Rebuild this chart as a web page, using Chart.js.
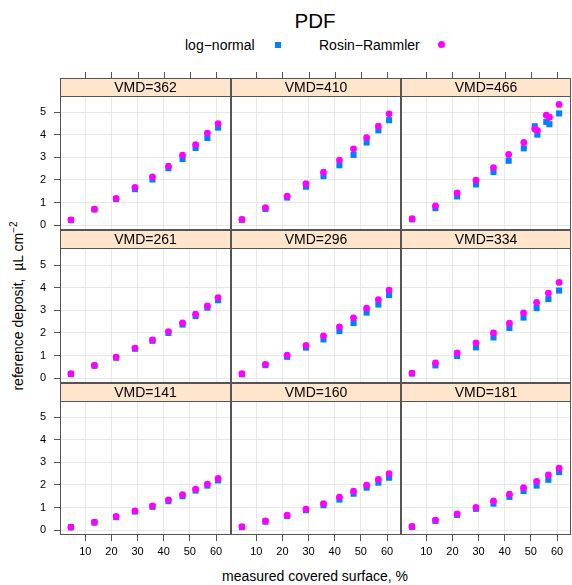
<!DOCTYPE html>
<html>
<head>
<meta charset="utf-8">
<script src="https://cdn.jsdelivr.net/npm/chart.js@4.4.0/dist/chart.umd.min.js"></script>
<style>
  body { margin: 0; background: #fff; font-family: "Liberation Sans", Arial, sans-serif; }
  #wrap { position: relative; width: 572px; height: 585px; overflow: hidden; }
  #wrap canvas { position: absolute; }
  .txt { position: absolute; white-space: nowrap; color: #000; line-height: 1; }
  .sq { position: absolute; width: 6px; height: 6px; background: #0080ff; }
  .dot { position: absolute; width: 7px; height: 7px; border-radius: 50%; background: #ff00ff; }
</style>
</head>
<body>
<div id="wrap">
  <div class="txt" style="left:0;width:630px;text-align:center;top:11px;font-size:20.5px;">PDF</div>
  <div class="txt" style="left:185px;top:38px;font-size:14px;">log−normal</div>
  <div class="sq" style="left:275px;top:42px;"></div>
  <div class="txt" style="left:319px;top:38px;font-size:14px;">Rosin−Rammler</div>
  <div class="dot" style="left:438px;top:41px;"></div>
  <div class="txt" style="left:0;width:630px;text-align:center;top:569px;font-size:14px;">measured covered surface, %</div>
  <div class="txt" style="left:17px;top:306px;font-size:14px;transform:translate(-50%,-50%) rotate(-90deg);">reference deposit,&nbsp; µL cm<sup style="font-size:10px;vertical-align:6px;">−2</sup></div>
</div>
<script>
// measured covered surface, % (shared by most panels)
const covered = [4.5, 13.5, 21.8, 29.0, 35.7, 41.8, 47.2, 52.2, 56.7, 60.8];
const covered466 = [4.6, 13.5, 21.8, 29.0, 35.7, 41.5, 47.3, 51.5, 52.5, 55.9, 57.1, 60.8];

const vmdLabels = ["VMD=362", "VMD=410", "VMD=466",
                   "VMD=261", "VMD=296", "VMD=334",
                   "VMD=141", "VMD=160", "VMD=181"];

// reference deposit, log-normal (ln) and Rosin-Rammler (rr)
const ln362 = [0.22, 0.69, 1.15, 1.59, 2.02, 2.52, 2.93, 3.42, 3.86, 4.32];
const rr362 = [0.23, 0.71, 1.18, 1.67, 2.14, 2.61, 3.10, 3.57, 4.08, 4.50];
const ln410 = [0.23, 0.71, 1.22, 1.70, 2.17, 2.65, 3.11, 3.66, 4.20, 4.65];
const rr410 = [0.25, 0.77, 1.28, 1.83, 2.35, 2.88, 3.38, 3.88, 4.39, 4.93];
const ln466 = [0.25, 0.75, 1.27, 1.80, 2.35, 2.85, 3.40, 4.38, 4.01, 4.57, 4.47, 4.95];
const rr466 = [0.28, 0.85, 1.42, 1.99, 2.55, 3.13, 3.66, 4.26, 4.20, 4.87, 4.78, 5.35];
const ln261 = [0.18, 0.55, 0.90, 1.30, 1.65, 2.00, 2.37, 2.75, 3.12, 3.45];
const rr261 = [0.19, 0.56, 0.93, 1.33, 1.69, 2.06, 2.44, 2.83, 3.20, 3.57];
const ln296 = [0.17, 0.57, 0.94, 1.35, 1.71, 2.08, 2.44, 2.90, 3.26, 3.68];
const rr296 = [0.19, 0.61, 1.01, 1.45, 1.87, 2.27, 2.67, 3.10, 3.48, 3.90];
const ln334 = [0.20, 0.56, 0.98, 1.36, 1.80, 2.22, 2.68, 3.10, 3.50, 3.88];
const rr334 = [0.22, 0.67, 1.11, 1.56, 2.00, 2.43, 2.89, 3.35, 3.76, 4.24];
const ln141 = [0.12, 0.33, 0.57, 0.82, 1.03, 1.28, 1.50, 1.75, 1.97, 2.20];
const rr141 = [0.13, 0.35, 0.60, 0.85, 1.07, 1.34, 1.57, 1.81, 2.04, 2.29];
const ln160 = [0.13, 0.37, 0.62, 0.88, 1.10, 1.35, 1.61, 1.88, 2.10, 2.32];
const rr160 = [0.15, 0.40, 0.66, 0.93, 1.17, 1.46, 1.72, 1.99, 2.25, 2.50];
const ln181 = [0.14, 0.40, 0.67, 0.94, 1.17, 1.47, 1.73, 1.97, 2.23, 2.57];
const rr181 = [0.16, 0.44, 0.72, 1.00, 1.29, 1.59, 1.88, 2.16, 2.44, 2.74];

const xTicks = [10, 20, 30, 40, 50, 60];
const yTicks = [0, 1, 2, 3, 4, 5];

const panels = [
  [covered, ln362, rr362], [covered, ln410, rr410], [covered466, ln466, rr466],
  [covered, ln261, rr261], [covered, ln296, rr296], [covered, ln334, rr334],
  [covered, ln141, rr141], [covered, ln160, rr160], [covered, ln181, rr181]
];

// layout of the lattice
const colLeft = [60, 231, 401];
const colW = [171, 170, 170];
const stripTop = [78, 230, 383];
const plotH = [134, 135, 134];
const stripH = 18;
const pxPerUnit = 22.55;
const yMin = -0.22;

const wrap = document.getElementById("wrap");
const edge = "#555";

const panelDeco = {
  id: "panelDeco",
  afterDraw(chart, args, opts) {
    const { ctx, chartArea: a, scales } = chart;
    const top = a.top - stripH;
    ctx.save();
    // strip
    ctx.fillStyle = "#ffe5cc";
    ctx.fillRect(a.left, top, a.right - a.left, stripH);
    ctx.fillStyle = "#000";
    ctx.font = '14px "Liberation Sans", Arial, sans-serif';
    ctx.textAlign = "center";
    ctx.textBaseline = "middle";
    ctx.fillText(opts.label, (a.left + a.right) / 2, top + stripH / 2 + 1);
    // borders
    ctx.strokeStyle = edge;
    ctx.lineWidth = 1;
    ctx.strokeRect(a.left + 0.5, top + 0.5, a.right - a.left - 1, a.bottom - top - 1);
    ctx.beginPath();
    ctx.moveTo(a.left, a.top + 0.5);
    ctx.lineTo(a.right, a.top + 0.5);
    ctx.stroke();
    // top tick marks on the first row
    if (opts.topTicks) {
      ctx.beginPath();
      xTicks.forEach(v => {
        const x = Math.round(scales.x.getPixelForValue(v)) + 0.5;
        ctx.moveTo(x, top - 6);
        ctx.lineTo(x, top);
      });
      ctx.stroke();
    }
    ctx.restore();
  }
};

panels.forEach((p, i) => {
  const r = Math.floor(i / 3), c = i % 3;
  const [xs, ln, rr] = p;
  const w = colW[c], h = plotH[r];
  const bottomRow = r === 2, leftCol = c === 0;

  const cv = document.createElement("canvas");
  const W = 60 + w + 10, H = 10 + stripH + h + 50;
  cv.width = W; cv.height = H;
  cv.style.left = (colLeft[c] - 60) + "px";
  cv.style.top = (stripTop[r] - 10) + "px";
  cv.style.width = W + "px"; cv.style.height = H + "px";
  wrap.appendChild(cv);

  new Chart(cv, {
    type: "scatter",
    data: {
      datasets: [{
        label: "Rosin-Rammler",
        data: xs.map((x, k) => ({ x: x, y: rr[k] })),
        pointStyle: "circle",
        pointRadius: 3.4,
        backgroundColor: "#ff00ff",
        borderWidth: 0,
        order: 0
      }, {
        label: "log-normal",
        data: xs.map((x, k) => ({ x: x, y: ln[k] })),
        pointStyle: "rect",
        pointRadius: 4.3,
        backgroundColor: "#0080ff",
        borderWidth: 0,
        order: 1
      }]
    },
    options: {
      responsive: false,
      animation: false,
      devicePixelRatio: 1,
      layout: { padding: { top: 10 + stripH, right: 10, left: 0, bottom: 0 } },
      plugins: {
        legend: { display: false },
        tooltip: { enabled: false },
        panelDeco: { label: vmdLabels[i], topTicks: r === 0 }
      },
      scales: {
        x: {
          type: "linear",
          min: 0.32,
          max: 0.32 + w / 2.614,
          afterBuildTicks: s => { s.ticks = xTicks.map(v => ({ value: v })); },
          afterFit: s => { s.height = 50; },
          border: { display: false },
          grid: { color: "#e8e8e8", drawTicks: bottomRow, tickColor: edge, tickLength: 6 },
          ticks: { display: bottomRow, color: "#000", font: { size: 11 }, padding: 4 }
        },
        y: {
          type: "linear",
          min: yMin,
          max: yMin + h / pxPerUnit,
          afterBuildTicks: s => { s.ticks = yTicks.map(v => ({ value: v })); },
          afterFit: s => { s.width = 60; },
          border: { display: false },
          grid: { color: "#e8e8e8", drawTicks: leftCol, tickColor: edge, tickLength: 6 },
          ticks: { display: leftCol, color: "#000", font: { size: 11 }, padding: 8 }
        }
      }
    },
    plugins: [panelDeco]
  });
});
</script>
</body>
</html>
